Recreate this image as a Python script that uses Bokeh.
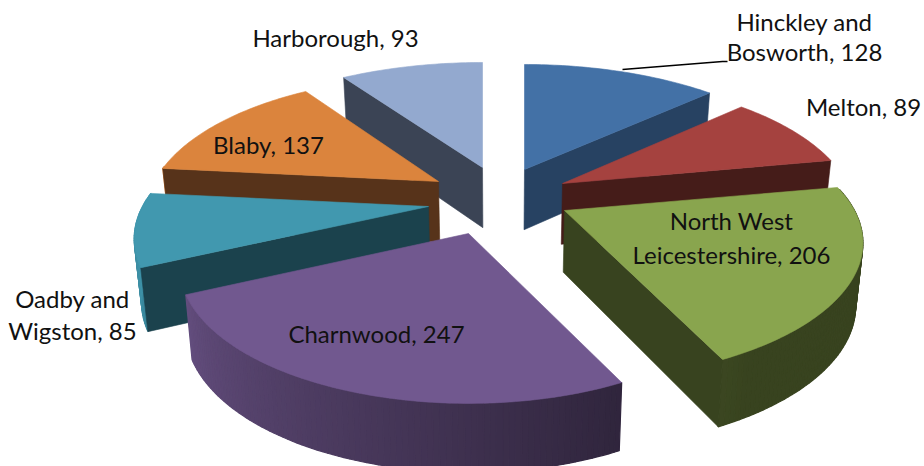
import math
from bokeh.embed import file_html
from bokeh.resources import INLINE
from bokeh.plotting import figure
from bokeh.models import Range1d, ColumnDataSource
from bokeh.core.properties import value as font_value

# ---- data ----
districts = ["Hinckley and Bosworth", "Melton", "North West Leicestershire", "Charnwood",
             "Oadby and Wigston", "Blaby", "Harborough"]
counts = [128, 89, 206, 247, 85, 137, 93]

# ---- styles ----
top_colors = ["#4371A6", "#A5423F", "#89A54E", "#71588F", "#4198AF", "#DB843D", "#93A9CF"]
wall_colors = ["#274262", "#451C19", "#38431F", "#2D2339", "#1B424D", "#57331A", "#3B4455"]

# ---- layout of the exploded, perspective pie (pixels of the picture) ----
apex_x = [524, 562, 564, 468, 428, 438, 482]
apex_y = [169, 183, 210, 233, 206, 181, 167]
radius_x = [295, 285, 290, 281, 286, 284, 297]
RADIUS_Y = 129.8
PERSPECTIVE = 0.236
paint_order = [6, 0, 1, 5, 4, 2, 3]

label_lines = [
    (["Hinckley and", "Bosworth, 128"], 804, [21, 51]),
    (["Melton, 89"], 863, [106]),
    (["North West", "Leicestershire, 206"], 731, [220, 254]),
    (["Charnwood, 247"], 376, [333]),
    (["Oadby and", "Wigston, 85"], 72, [298, 330]),
    (["Blaby, 137"], 268, [144]),
    (["Harborough, 93"], 335, [37]),
]
leader_x = [622, 722, 727]
leader_y = [69, 61, 61]


def rim(i, theta):
    t = math.radians(theta)
    u, v = math.sin(t), math.cos(t)
    d = 1 + PERSPECTIVE * v
    return apex_x[i] + radius_x[i] * u / d, apex_y[i] - RADIUS_Y * v / d


def lower(pt):
    x, y = pt
    return x - 0.02 * (x - 500), y + 54 + 0.037 * y


def rgb(c):
    return [int(c[k:k + 2], 16) for k in (1, 3, 5)]


def mix(a, b, t):
    ca, cb = rgb(a), rgb(b)
    return "#%02x%02x%02x" % tuple(round(x + (y - x) * t) for x, y in zip(ca, cb))


def face_shows(apex, end_pt, mid_pt):
    """A radial face hangs below its edge: it shows when the slice lies above that edge."""
    dx = end_pt[0] - apex[0]
    if abs(dx) < 1e-6:
        return False
    line_y = apex[1] + (end_pt[1] - apex[1]) * (mid_pt[0] - apex[0]) / dx
    return mid_pt[1] < line_y


total = sum(counts)
starts, acc = [], 0
for c in counts:
    starts.append(acc / total * 360)
    acc += c
ends = starts[1:] + [360.0]

p = figure(width=924, height=466, output_backend="svg", toolbar_location=None,
           x_range=Range1d(0, 924), y_range=Range1d(466, 0),
           x_axis_location=None, y_axis_location=None, min_border=0,
           outline_line_color=None, background_fill_color="white")
p.grid.visible = False

xs, ys, fills, widths = [], [], [], []


def add(points, colour, lw):
    xs.append([q[0] for q in points])
    ys.append([q[1] for q in points])
    fills.append(colour)
    widths.append(lw)


for i in paint_order:
    a0, a1 = starts[i], ends[i]
    apex = (apex_x[i], apex_y[i])
    n = max(3, int(a1 - a0))
    angles = [a0 + (a1 - a0) * k / n for k in range(n + 1)]
    arc = [rim(i, a) for a in angles]
    mid_pt = rim(i, (a0 + a1) / 2)
    # curved rim, shaded by direction; the far part of the rim cannot be seen
    for k in range(n):
        mid = (angles[k] + angles[k + 1]) / 2
        if mid < 80 or mid > 277:
            continue
        t = min(1, max(0, (mid - 150) / 120))
        add([arc[k], arc[k + 1], lower(arc[k + 1]), lower(arc[k])], mix(wall_colors[i], top_colors[i], t), 1.2)
    # flat radial faces
    for end_pt in (arc[0], arc[-1]):
        if face_shows(apex, end_pt, mid_pt):
            add([apex, end_pt, lower(end_pt), lower(apex)], wall_colors[i], 0.6)
    # top face
    add([apex] + arc, top_colors[i], 0.6)

src = ColumnDataSource(dict(xs=xs, ys=ys, fill=fills, lw=widths))
p.patches("xs", "ys", source=src, fill_color="fill", line_color="fill", line_width="lw")
p.line(leader_x, leader_y, line_color="black", line_width=1.4)

for lines, lx, lys in label_lines:
    p.text(x=[lx] * len(lines), y=lys, text=lines, text_font=font_value("Lato"),
           text_font_size="24px", text_color="#111111", text_align="center", text_baseline="middle")

open("out.html", "w").write(file_html(p, INLINE))
